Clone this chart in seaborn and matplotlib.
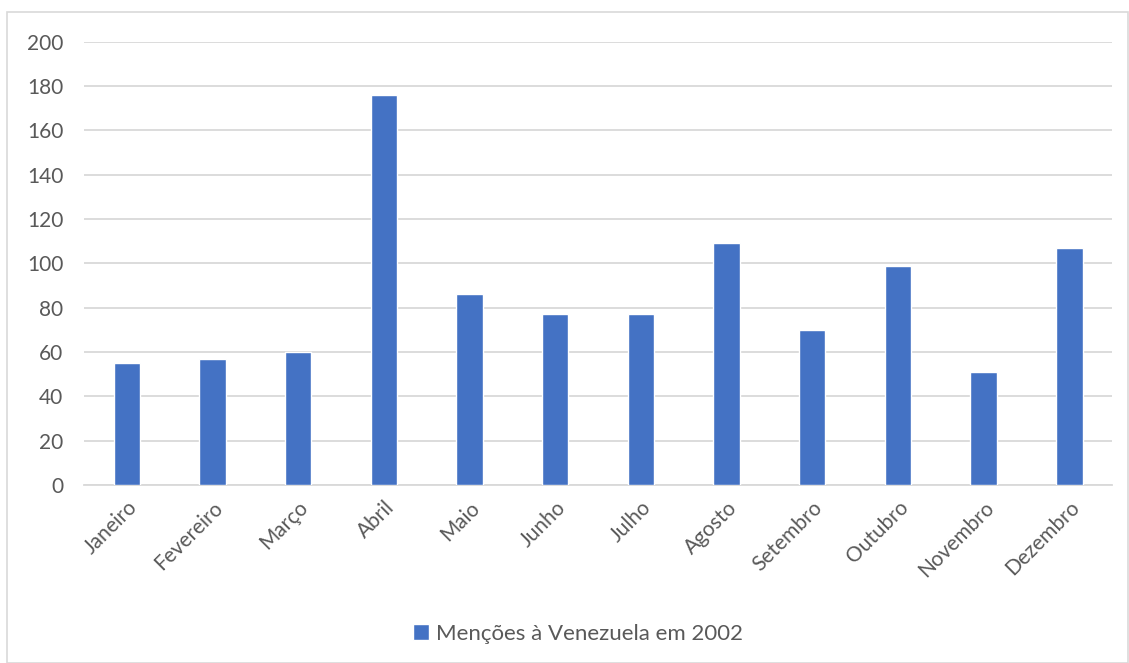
import matplotlib
matplotlib.use("Agg")
import matplotlib.pyplot as plt
import seaborn as sns
import pandas as pd
from matplotlib.patches import Rectangle, Patch

meses = ["Janeiro", "Fevereiro", "Março", "Abril", "Maio", "Junho", "Julho",
         "Agosto", "Setembro", "Outubro", "Novembro", "Dezembro"]
mencoes = [55, 57, 60, 176, 86, 77, 77, 109, 70, 99, 51, 107]
serie = "Menções à Venezuela em 2002"
yticks = [0, 20, 40, 60, 80, 100, 120, 140, 160, 180, 200]

df = pd.DataFrame({"Mês": meses, "Valor": mencoes})

sns.set_style("white")
plt.rcParams["font.family"] = ["Lato", "DejaVu Sans"]

blue = "#4472C4"
grid = "#D9D9D9"
txt = "#595959"

fig = plt.figure(figsize=(11.29, 6.63), dpi=100)
ax = fig.add_axes([0.0744, 0.2685, 0.9106, 0.6685])

sns.barplot(data=df, x="Mês", y="Valor", color=blue, width=0.31,
            saturation=1, ax=ax, zorder=3)

ax.set_ylim(0, 200)
ax.set_yticks(yticks)
ax.set_xlim(-0.5, len(meses) - 0.5)
ax.yaxis.grid(True, color=grid, linewidth=1.3, zorder=0)
ax.set_axisbelow(True)
for s in ["top", "right", "left"]:
    ax.spines[s].set_visible(False)
ax.spines["bottom"].set_color(grid)
ax.spines["bottom"].set_linewidth(1.3)
ax.tick_params(axis="both", length=0, labelsize=15, colors=txt)
ax.tick_params(axis="y", pad=15)
ax.set_xlabel("")
ax.set_ylabel("")
for lab in ax.get_xticklabels():
    lab.set_rotation(45)
    lab.set_ha("right")
    lab.set_rotation_mode("anchor")
ax.tick_params(axis="x", pad=9)

fig.legend(handles=[Patch(facecolor=blue, label=serie)], loc="center",
           bbox_to_anchor=(0.512, 0.044), frameon=False, fontsize=16,
           labelcolor=txt, handlelength=0.7, handleheight=0.7,
           handletextpad=0.3)

fig.patches.append(Rectangle((7 / 1129, 0), 1 - 8 / 1129, 1 - 12 / 663,
                             transform=fig.transFigure, fill=False,
                             edgecolor="#D9D9D9", linewidth=1.2))

fig.savefig("out.png", dpi=100)
